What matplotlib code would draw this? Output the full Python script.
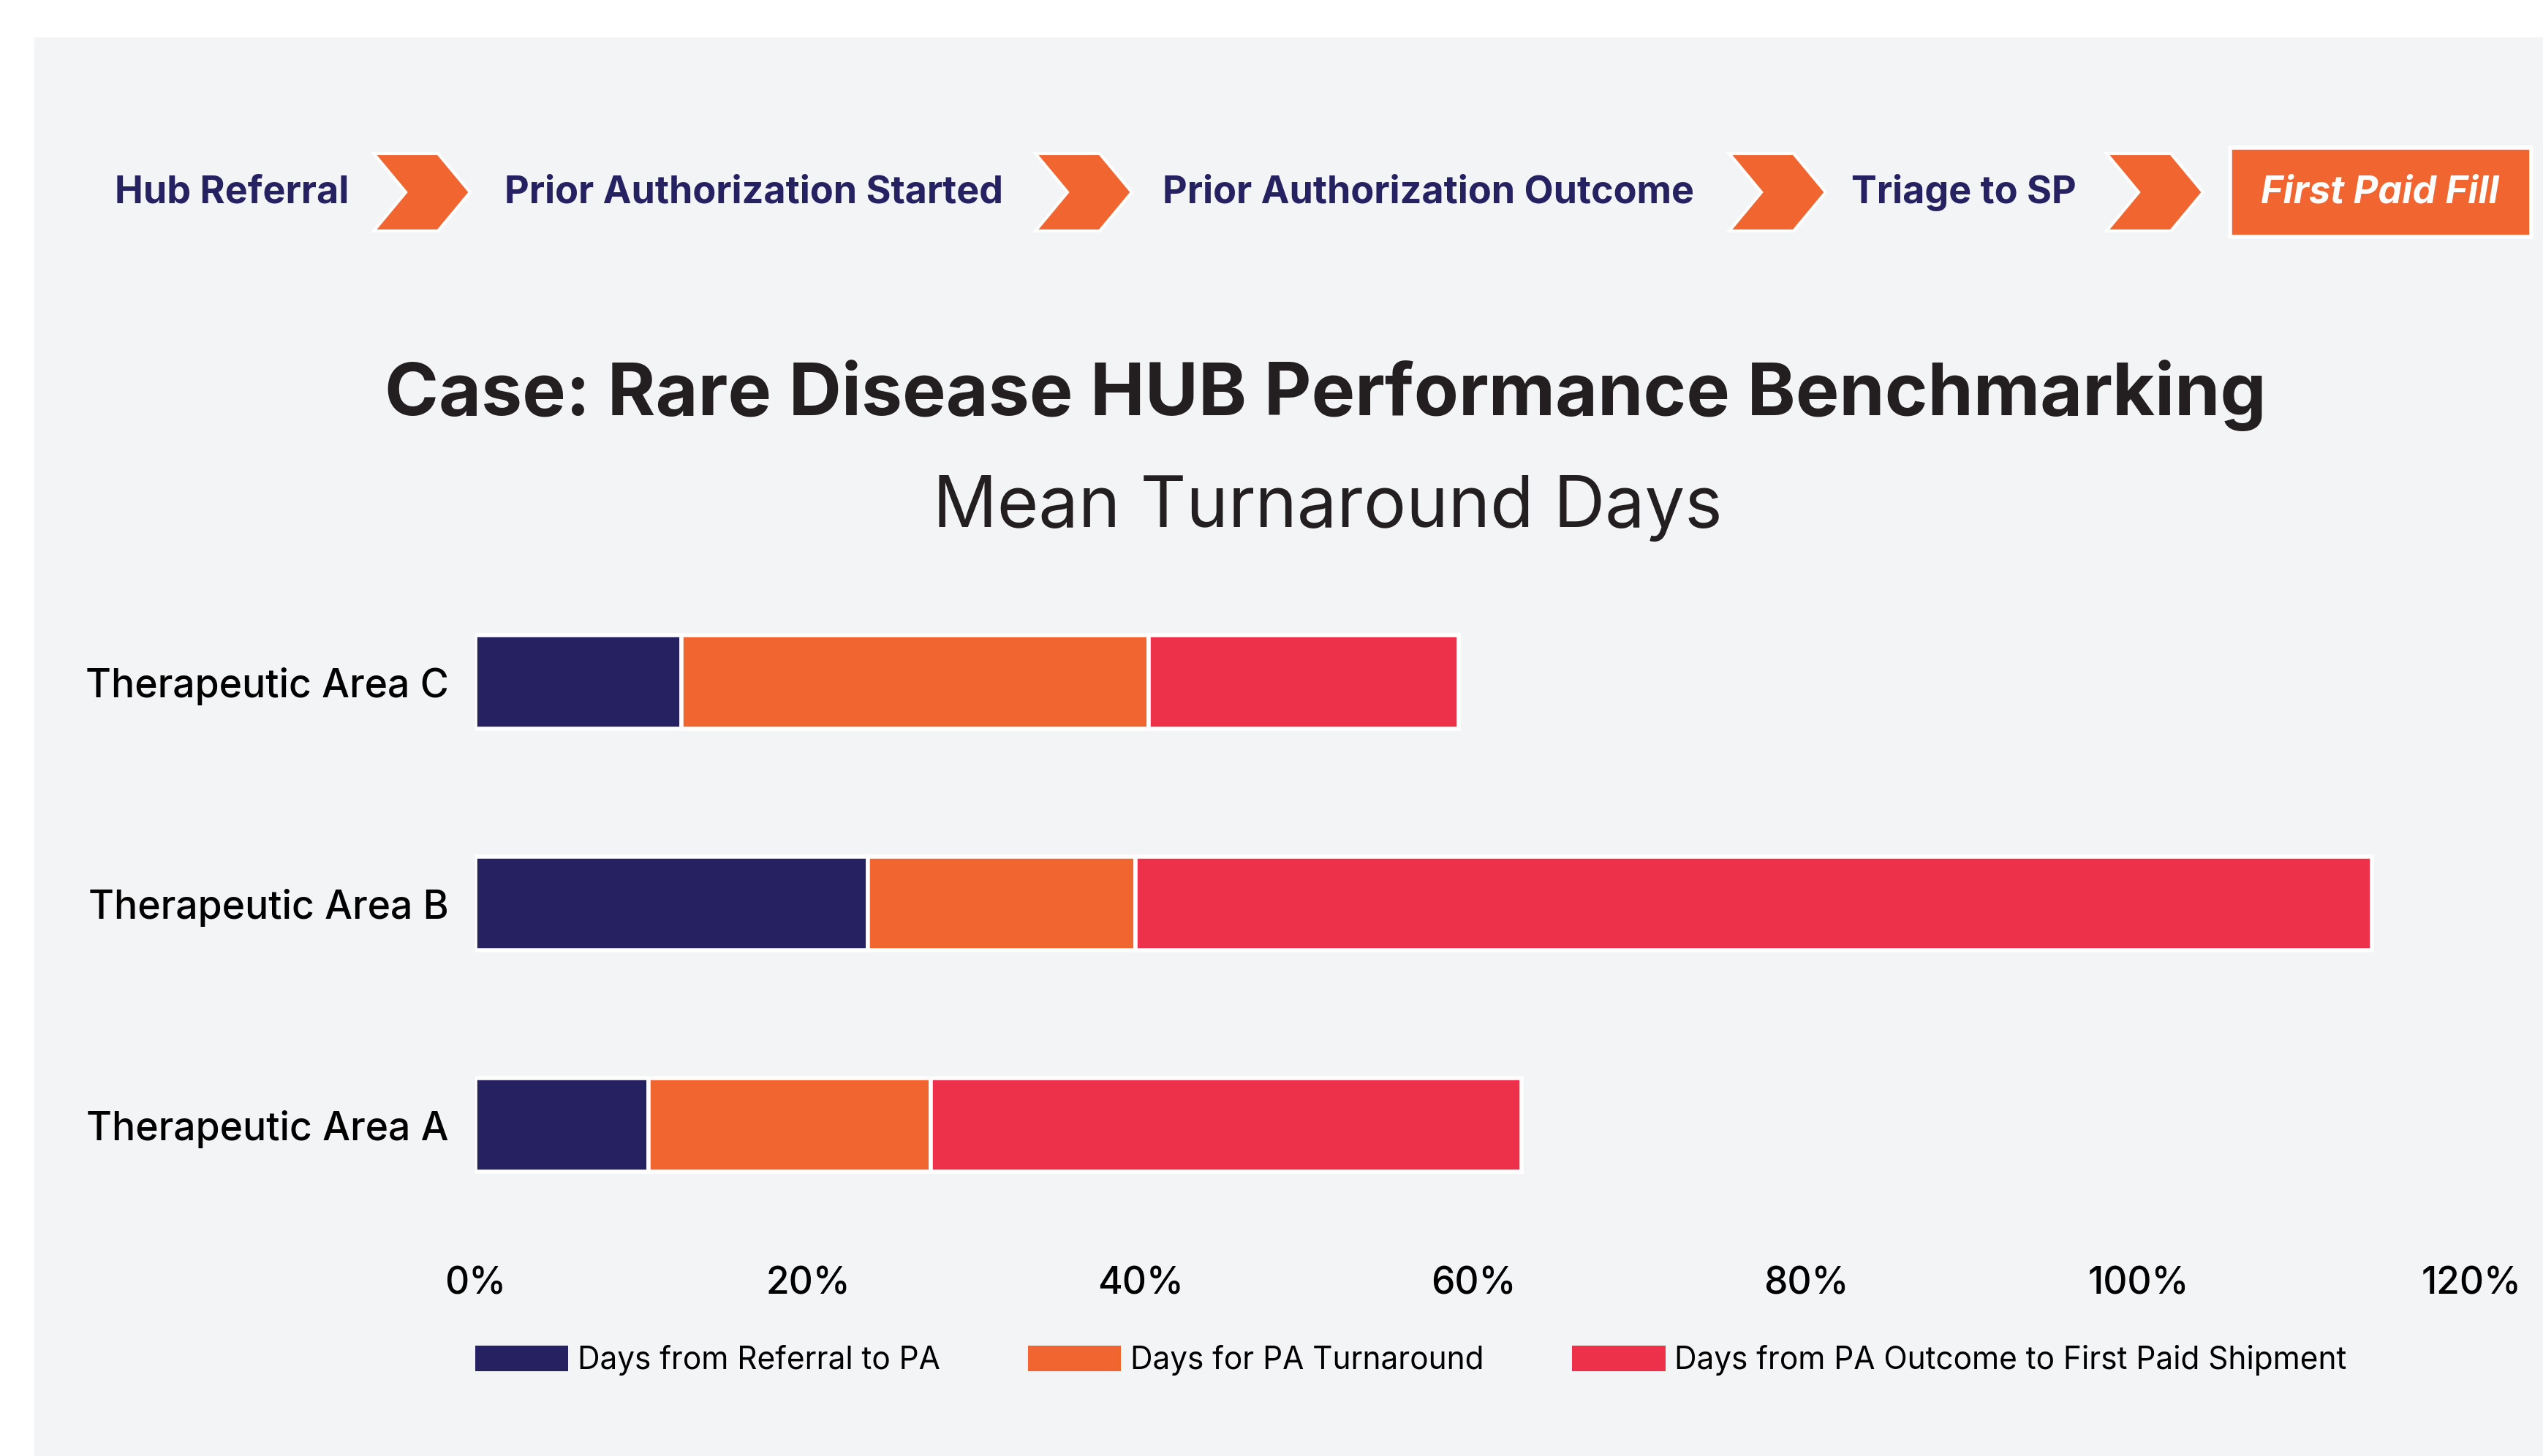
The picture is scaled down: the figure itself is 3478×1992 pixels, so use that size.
import matplotlib
matplotlib.use("Agg")
import matplotlib.pyplot as plt
from matplotlib.patches import Rectangle, Polygon, Patch

plt.rcParams['font.family'] = ['Inter', 'DejaVu Sans']

# data (share of benchmark)
areas = ["Therapeutic Area A", "Therapeutic Area B", "Therapeutic Area C"]
referral_to_pa = [0.104, 0.236, 0.124]
pa_turnaround = [0.170, 0.161, 0.281]
pa_to_shipment = [0.355, 0.743, 0.186]
series_names = ["Days from Referral to PA", "Days for PA Turnaround",
                "Days from PA Outcome to First Paid Shipment"]
steps = ["Hub Referral", "Prior Authorization Started", "Prior Authorization Outcome",
         "Triage to SP", "First Paid Fill"]
xticks = [0, 0.2, 0.4, 0.6, 0.8, 1.0, 1.2]

NAVY = "#262262"
ORANGE = "#F16531"
RED = "#EE314B"
PANEL = "#F3F4F6"

W, H = 3478, 1992
def fx(x): return x / W
def fy(y): return 1 - y / H

fig = plt.figure(figsize=(W / 100, H / 100), dpi=100)
fig.patch.set_facecolor("white")
fig.add_artist(Rectangle((fx(47), 0), 1 - fx(47), fy(51), transform=fig.transFigure,
                         facecolor=PANEL, edgecolor="none", zorder=0))

# process header: chevrons and step labels
chev_x = [511, 1416, 2365, 2881]
top, bot, mid = 210, 316, 263
for x0 in chev_x:
    pts = [(x0, top), (x0 + 88, top), (x0 + 132, mid), (x0 + 88, bot), (x0, bot), (x0 + 44, mid)]
    fig.add_artist(Polygon([(fx(a), fy(b)) for a, b in pts], closed=True, transform=fig.transFigure,
                           facecolor=ORANGE, edgecolor="white", linewidth=3, zorder=2))
fig.add_artist(Rectangle((fx(3050), fy(324)), fx(412), 122 / H, transform=fig.transFigure,
                         facecolor=ORANGE, edgecolor="white", linewidth=4, zorder=2))

step_x = [317, 1031, 1954, 2686]
for s, x in zip(steps[:4], step_x):
    fig.text(fx(x), fy(278), s, ha="center", va="baseline", fontsize=37.5, fontweight="bold",
             color=NAVY, zorder=3)
fig.text(fx(3255), fy(278), steps[4], ha="center", va="baseline", fontsize=37.5,
         fontweight="bold", fontstyle="italic", color="white", zorder=3)

fig.text(fx(1813), fy(568), "Case: Rare Disease HUB Performance Benchmarking", ha="center",
         va="baseline", fontsize=72, fontweight="bold", color="#231F20")
fig.text(fx(1816), fy(721), "Mean Turnaround Days", ha="center", va="baseline",
         fontsize=70, color="#231F20")

# stacked bars
ax = fig.add_axes([fx(650), fy(1690.5), fx(3380) - fx(650), (1690.5 - 781.5) / H])
ax.set_facecolor("none")
y = range(len(areas))
left = [0.0] * len(areas)
for vals, color, name in zip([referral_to_pa, pa_turnaround, pa_to_shipment],
                             [NAVY, ORANGE, RED], series_names):
    ax.barh(y, vals, left=left, height=0.42, color=color, edgecolor="white",
            linewidth=4, label=name)
    left = [l + v for l, v in zip(left, vals)]

ax.set_xlim(0, 1.2)
ax.set_ylim(-0.5, 2.5)
ax.set_xticks(xticks)
ax.set_xticklabels([f"{int(round(t * 100))}%" for t in xticks])
ax.set_yticks(list(y))
ax.set_yticklabels(areas)
for lab in ax.get_xticklabels() + ax.get_yticklabels():
    lab.set_fontweight("medium")
ax.tick_params(axis="x", length=0, pad=30, labelsize=37, labelcolor="black")
ax.tick_params(axis="y", length=0, pad=26, labelsize=38.5, labelcolor="black")
for sp in ax.spines.values():
    sp.set_visible(False)

handles = [Patch(facecolor=c, edgecolor="none") for c in [NAVY, ORANGE, RED]]
fig.legend(handles, series_names, loc="upper left", bbox_to_anchor=(fx(650), fy(1840)),
           ncol=3, frameon=False, fontsize=30.5, handlelength=3.0, handleheight=0.9,
           handletextpad=0.3, columnspacing=2.85, borderpad=0, borderaxespad=0)

fig.savefig("out.png", dpi=100)
